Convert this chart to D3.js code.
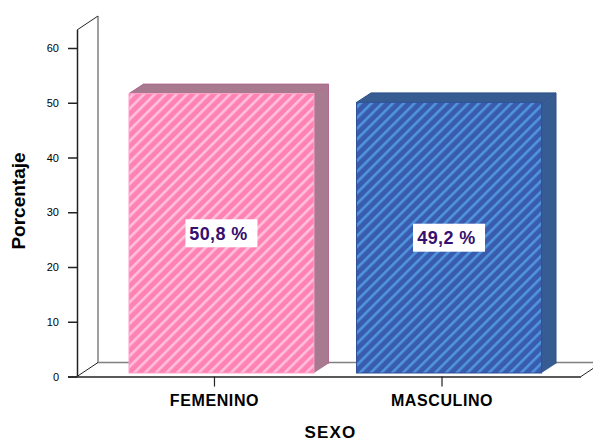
<!DOCTYPE html>
<html><head><meta charset="utf-8">
<script src="https://cdn.jsdelivr.net/npm/d3@7"></script>
<style>html,body{margin:0;padding:0;background:#fff}svg{display:block}text{font-family:"Liberation Sans",Arial,sans-serif}</style>
</head><body><div id="c"></div>
<script>
const categories = ["FEMENINO","MASCULINO"];
const values = [50.8,49.2];
const labels = ["50,8 %","49,2 %"];
const yTicks = [0,10,20,30,40,50,60];
const frontColors = ["#ff82b4","#3a5cae"];
const stripeColors = ["#ffc0dc","#4f94de"];
const sideColors = ["#a87a90","#365c92"];
const edgeColors = ["#b0688c","#2f4f8a"];
const frontEdges = ["#ffa0c8","#2f5096"];

const W=593,H=441;
const svg=d3.select("#c").append("svg").attr("width",W).attr("height",H);
const y=d3.scaleLinear().domain([0,60]).range([376.5,48]);
const yBar=d3.scaleLinear().domain([0,60]).range([373,43]);
const x=d3.scaleBand().domain(categories).range([101,569.5]).paddingInner(0.187).paddingOuter(0.123);
const xAxisScale=d3.scaleBand().domain(categories).range([94,562.5]).paddingInner(0.187).paddingOuter(0.123);
const dx=21,dy=14,bx=14.5,by=9.5;

const defs=svg.append("defs");
categories.forEach((c,i)=>{
  const p=defs.append("pattern").attr("id","p"+i).attr("patternUnits","userSpaceOnUse")
    .attr("width",7.6).attr("height",7.6).attr("patternTransform","rotate(-45)");
  p.append("rect").attr("width",7.6).attr("height",7.6).attr("fill",frontColors[i]);
  p.append("rect").attr("width",7.6).attr("height",2.6).attr("fill",stripeColors[i]);
});

const x0=77,x1=581,y0=y(0),yTop=30;
svg.append("path").attr("d",`M${x0+dx},${yTop-dy}L${x0+dx},${y0-dy}L593,${y0-dy}`).attr("fill","none").attr("stroke","#808080").attr("stroke-width",1.5);
svg.append("path").attr("d",`M${x0},${yTop}L${x0+dx},${yTop-dy}`).attr("fill","none").attr("stroke","#222").attr("stroke-width",1);
svg.append("path").attr("d",`M${x0},${y0}L${x0+dx},${y0-dy}M${x1},${y0}L${x1+dx},${y0-dy}`).attr("fill","none").attr("stroke","#222").attr("stroke-width",1);

const g=svg.selectAll("g.bar").data(values).join("g").attr("class","bar");
g.append("path").attr("d",(d,i)=>{
  const l=x(categories[i]),r=l+x.bandwidth(),t=yBar(d),b=yBar(0);
  return `M${r},${t}L${r+bx},${t-by}L${r+bx},${b-by}L${r},${b}Z`;
}).attr("fill",(d,i)=>sideColors[i]);
g.append("path").attr("d",(d,i)=>{
  const l=x(categories[i]),r=l+x.bandwidth(),t=yBar(d);
  return `M${l},${t}L${l+bx},${t-by}L${r+bx},${t-by}L${r},${t}Z`;
}).attr("fill",(d,i)=>sideColors[i]);
g.append("path").attr("d",(d,i)=>{
  const l=x(categories[i]),r=l+x.bandwidth(),t=yBar(d);
  return `M${l},${t}L${l+bx},${t-by}L${r+bx},${t-by}L${r+bx},${yBar(0)-by}M${r},${t}L${r+bx},${t-by}`;
}).attr("fill","none").attr("stroke",(d,i)=>edgeColors[i]).attr("stroke-width",1);
g.append("rect").attr("x",(d,i)=>x(categories[i])).attr("y",d=>yBar(d))
 .attr("width",x.bandwidth()).attr("height",d=>yBar(0)-yBar(d))
 .attr("fill",(d,i)=>`url(#p${i})`).attr("stroke",(d,i)=>frontEdges[i]).attr("stroke-width",1);

const ay=svg.append("g").attr("transform",`translate(${x0},0)`).call(d3.axisLeft(y).tickValues(yTicks).tickSize(9).tickPadding(9).tickSizeOuter(0));
ay.select(".domain").attr("d",`M0.5,${yTop}L0.5,${y0}`).attr("stroke","#222").attr("stroke-width",1.5);
ay.selectAll("line").attr("stroke","#222").attr("stroke-width",1.5);
ay.selectAll("text").attr("font-size",11).attr("fill","#000").style("font-family",'"Liberation Sans",Arial,sans-serif');

const ax=svg.append("g").attr("transform",`translate(0,${y0})`).call(d3.axisBottom(xAxisScale).tickSize(10).tickPadding(8).tickSizeOuter(0));
ax.select(".domain").attr("d",`M68,0.5L${x1},0.5`).attr("stroke","#222").attr("stroke-width",1.5);
ax.selectAll("line").attr("stroke","#222").attr("stroke-width",1.2);
ax.selectAll("text").attr("font-size",16).attr("font-weight","bold").attr("fill","#000").style("letter-spacing","0.6px").style("font-family",'"Liberation Sans",Arial,sans-serif');

const lw=72,lh=28;
const textDx=[-3,-2.5];
g.append("rect").attr("x",(d,i)=>x(categories[i])+x.bandwidth()/2-lw/2).attr("y",d=>(yBar(d)+yBar(0))/2-lh/2)
 .attr("width",lw).attr("height",lh).attr("fill","#fff");
g.append("text").attr("x",(d,i)=>x(categories[i])+x.bandwidth()/2+textDx[i]).attr("y",d=>(yBar(d)+yBar(0))/2).attr("dy","0.35em")
 .attr("text-anchor","middle").attr("font-size",18).attr("font-weight","bold").style("letter-spacing","0.4px").attr("fill","#35106e").text((d,i)=>labels[i]);

svg.append("text").attr("x",330.5).attr("y",437.5).attr("text-anchor","middle").attr("font-size",17).attr("font-weight","bold").style("letter-spacing","1.2px").text("SEXO");
svg.append("text").attr("transform","translate(25,201) rotate(-90)").attr("text-anchor","middle").attr("font-size",19).attr("font-weight","bold").text("Porcentaje");
</script></body></html>
